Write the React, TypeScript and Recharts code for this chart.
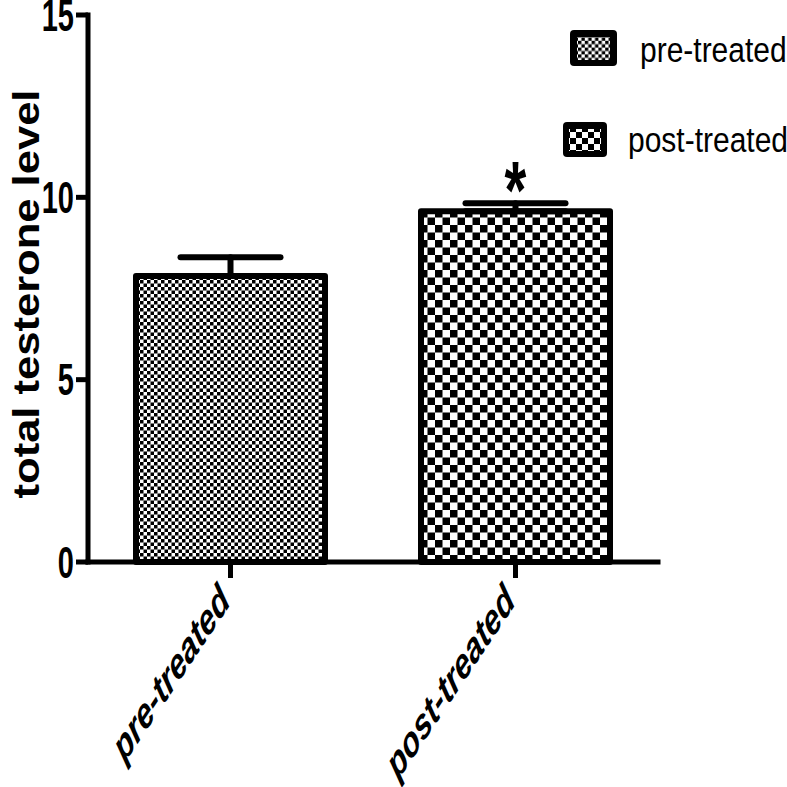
import React from 'react';
import { BarChart, Bar, XAxis, YAxis, ErrorBar, Cell, LabelList } from 'recharts';

const GROUPS = ['pre-treated', 'post-treated'];
const MEANS = [7.84, 9.62];
const SEM = [0.52, 0.22];
const SIG = ['', '*'];
const Y_TICKS = [0, 5, 10, 15];
const FILLS = ['url(#chkFine)', 'url(#chkCoarse)'];
const LEGEND_FILLS = ['url(#legFine)', 'url(#legCoarse)'];

const FONT = '"Liberation Sans", Arial, Helvetica, sans-serif';
const STRETCH = 1.5; // the original figure is stretched vertically

const data = GROUPS.map((g, i) => ({ group: g, mean: MEANS[i], err: [0, SEM[i]], sig: SIG[i] }));

const Checker = ({ id, cell }: { id: string; cell: number }) => (
  <pattern id={id} width={cell * 2} height={cell * 2} patternUnits="userSpaceOnUse">
    <rect width={cell * 2} height={cell * 2} fill="#fff" />
    <rect width={cell} height={cell} fill="#000" />
    <rect x={cell} y={cell} width={cell} height={cell} fill="#000" />
  </pattern>
);

const YTick = ({ x, y, payload }: any) => (
  <g transform={`translate(${x},${y}) scale(1,${STRETCH})`}>
    <text textAnchor="end" dy="0.36em" fontFamily={FONT} fontWeight="bold" fontSize={29} fill="#000">
      {payload.value}
    </text>
  </g>
);

const XTick = ({ x, y, payload }: any) => (
  <g transform={`translate(${x + 1},${y + 23}) scale(1,${STRETCH}) rotate(-45)`}>
    <text textAnchor="end" fontFamily={FONT} fontWeight="bold" fontStyle="italic" fontSize={29} fill="#000">
      {payload.value}
    </text>
  </g>
);

const SigMark = ({ x, y, width, value }: any) => {
  if (!value) return null;
  return (
    <g transform={`translate(${x + width / 2},${y + 7}) scale(1,1.45)`}>
      <text textAnchor="middle" fontFamily={FONT} fontWeight="bold" fontSize={56} fill="#000">
        {value}
      </text>
    </g>
  );
};

const Overlay = () => (
  <svg width={787} height={787} style={{ position: 'absolute', left: 0, top: 0, pointerEvents: 'none' }}>
    <defs>
      <Checker id="legFine" cell={3.4} />
      <Checker id="legCoarse" cell={6} />
    </defs>
    {/* y axis title */}
    <g transform={`translate(39,294) rotate(-90) scale(1.21,1)`}>
      <text textAnchor="middle" fontFamily={FONT} fontWeight="bold" fontSize={36} fill="#000">
        total testerone level
      </text>
    </g>
    {/* legend */}
    <rect x={570} y={30} width={47} height={36} rx={4} fill="#000" />
    <rect x={577} y={37} width={33} height={23} fill={LEGEND_FILLS[0]} />
    <g transform="translate(640,62) scale(1,1.17)">
      <text fontFamily={FONT} fontSize={30} fill="#000">{GROUPS[0]}</text>
    </g>
    <rect x={563} y={122} width={44} height={35} rx={4} fill="#000" />
    <rect x={569} y={129} width={32} height={22} fill={LEGEND_FILLS[1]} />
    <g transform="translate(628,152) scale(1,1.17)">
      <text fontFamily={FONT} fontSize={30} fill="#000">{GROUPS[1]}</text>
    </g>
  </svg>
);

export default function App() {
  const axisStyle = { stroke: '#000', strokeWidth: 5, strokeLinecap: 'square' as const };
  return (
    <div style={{ position: 'absolute', left: 0, top: 0, width: 787, height: 787, background: '#fff' }}>
      <BarChart width={787} height={787} data={data} margin={{ top: 15, right: 129, bottom: 0, left: 0 }}>
        <defs>
          <Checker id="chkFine" cell={3.5} />
          <Checker id="chkCoarse" cell={7.5} />
        </defs>
        <XAxis
          dataKey="group"
          height={225}
          interval={0}
          axisLine={axisStyle}
          tickLine={{ stroke: '#000', strokeWidth: 5 }}
          tickSize={16}
          tick={<XTick />}
        />
        <YAxis
          domain={[0, 15]}
          ticks={Y_TICKS}
          interval={0}
          width={88}
          axisLine={axisStyle}
          tickLine={{ stroke: '#000', strokeWidth: 5 }}
          tickSize={12}
          tick={<YTick />}
        />
        <Bar dataKey="mean" barSize={189} stroke="#000" strokeWidth={6} strokeLinejoin="round" isAnimationActive={false}>
          {data.map((d, i) => (
            <Cell key={d.group} fill={FILLS[i]} />
          ))}
          <ErrorBar dataKey="err" direction="y" width={50} stroke="#000" strokeWidth={6} strokeLinecap="round" isAnimationActive={false} />
          <LabelList dataKey="sig" content={<SigMark />} />
        </Bar>
      </BarChart>
      <Overlay />
    </div>
  );
}
